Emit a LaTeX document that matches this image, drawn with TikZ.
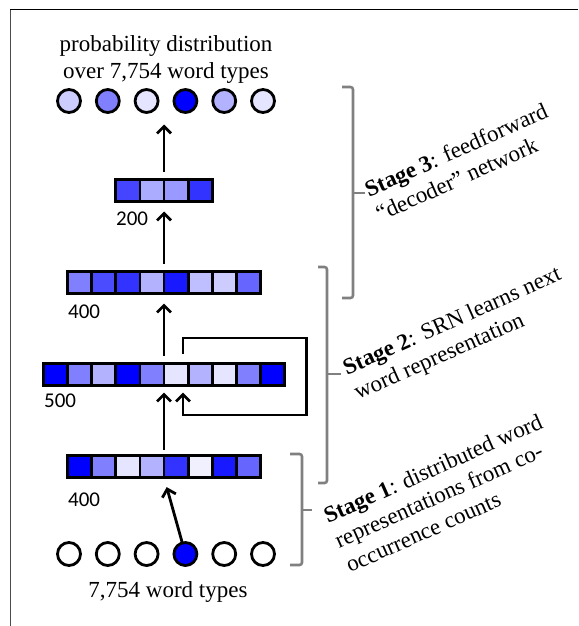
\documentclass[tikz,border=0pt]{standalone}
\usepackage{fontspec}
\setmainfont{Liberation Serif}
\newfontfamily\numfont{Carlito}
\usetikzlibrary{arrows.meta,calc}
\newcommand{\nnlayer}[3]{%
  \foreach \col [count=\i] in {#3} {%
    \node[cell, fill=\col, anchor=west] (#1-\i) at ($(#1.west)+({(\i-1)*24.1},0)$) {};}}
\begin{document}
\begin{tikzpicture}[x=1pt,y=-1pt,
  cell/.style={draw=black, line width=2.8pt, minimum width=24.1pt, minimum height=22pt, inner sep=0pt, outer sep=0pt},
  unit/.style={circle, draw=black, line width=2.8pt, minimum size=23pt, inner sep=0pt, outer sep=0pt},
  layer/.style={minimum height=22pt, inner sep=0pt, outer sep=0pt},
  arr/.style={line width=2.8pt, -{Straight Barb[length=7pt,width=14pt]}, shorten <=8pt, shorten >=10pt},
  loopline/.style={line width=2.8pt, -{Straight Barb[length=7pt,width=14pt]}},
  brace/.style={draw=gray, line width=2.6pt, rounded corners=2.5pt},
  lbl/.style={font=\numfont\fontsize{21}{24}\selectfont, anchor=base west, inner sep=0pt},
  txt/.style={font=\fontsize{23}{27}\selectfont, inner sep=0pt},
  stage/.style={txt, align=left, anchor=base west, rotate=24}]
\useasboundingbox (0,0) rectangle (578,626);
% frame
\draw[line width=1.3pt, black!70] (10.5,626) -- (10.5,9.5);
\draw[line width=1.8pt, black] (10,9.5) -- (578,9.5);
% title
\node[txt, align=center, anchor=north] (title) at (166,35) {probability distribution\\over 7,754 word types};
% output units
\foreach \col [count=\i] in {blue!20, blue!50, blue!10, blue, blue!30, blue!10}
  \node[unit, fill=\col] (o\i) at ({69+38.8*(\i-1)},101) {};
% layers
\node[layer, minimum width=96.4pt] (L200) at (164,190.5) {};
\nnlayer{L200}{}{blue!73, blue!33, blue!40, blue!80}
\node[layer, minimum width=192.8pt] (L400a) at (164,282.5) {};
\nnlayer{L400a}{}{blue!50, blue!70, blue!80, blue!30, blue!90, blue!25, blue!20, blue!60}
\node[layer, minimum width=241pt] (L500) at (164,374.5) {};
\nnlayer{L500}{}{blue, blue!50, blue!30, blue, blue!50, blue!10, blue!30, blue!10, blue!50, blue}
\node[layer, minimum width=192.8pt] (L400b) at (164,466.5) {};
\nnlayer{L400b}{}{blue, blue!50, blue!10, blue!30, blue!80, blue!6, blue!90, blue!60}
% input units
\foreach \col [count=\i] in {white, white, white, blue, white, white}
  \node[unit, fill=\col] (i\i) at ({69+38.8*(\i-1)},554) {};
% size labels
\node[lbl] (n200) at (116,225) {200};
\node[lbl] (n400a) at (68,318) {400};
\node[lbl] (n500) at (44,407) {500};
\node[lbl] (n400b) at (68,506) {400};
\node[txt, anchor=base] (intxt) at (168,597) {7,754 word types};
% connectors
\draw[arr, shorten >=12pt] (L200.north) -- (L200.north |- o3.south);
\draw[arr] (L400a.north) -- (L200.south);
\draw[arr] (L500.north) -- (L400a.south);
\draw[arr, shorten <=6pt, shorten >=7pt] (L400b.north) -- (L500.south);
\draw[arr, shorten <=0pt] (i4) -- (L400b.south);
\coordinate (fbStart) at ($(L500.north)+(19,-10)$);
\coordinate (fbTop) at ($(L500.north east)+(22,-25.5)$);
\coordinate (fbBot) at ($(L500.south)+(19,29.5)$);
\coordinate (fbEnd) at ($(L500.south)+(19,7)$);
\draw[loopline] (fbStart) |- (fbTop) |- (fbBot) -- (fbEnd);
% braces
\draw[brace] (342,87) -- (353,87) -- (353,298) -- (342,298);
\draw[brace] (353,193) -- (365,193);
\draw[brace] (318,267) -- (327,267) -- (327,483) -- (318,483);
\draw[brace] (327,374) -- (341,374);
\draw[brace] (290,454) -- (302,454) -- (302,565) -- (290,565);
\draw[brace] (302,510) -- (312,510);
% stage texts (anchor = baseline of last line)
\node[stage] (s3) at (380,222) {\textbf{Stage 3}: feedforward\\“decoder” network};
\node[stage] (s2) at (358,400) {\textbf{Stage 2}: SRN learns next\\word representation};
\node[stage] (s1) at (350,573) {\textbf{Stage 1}: distributed word\\representations from co-\\occurrence counts};
\end{tikzpicture}
\end{document}
